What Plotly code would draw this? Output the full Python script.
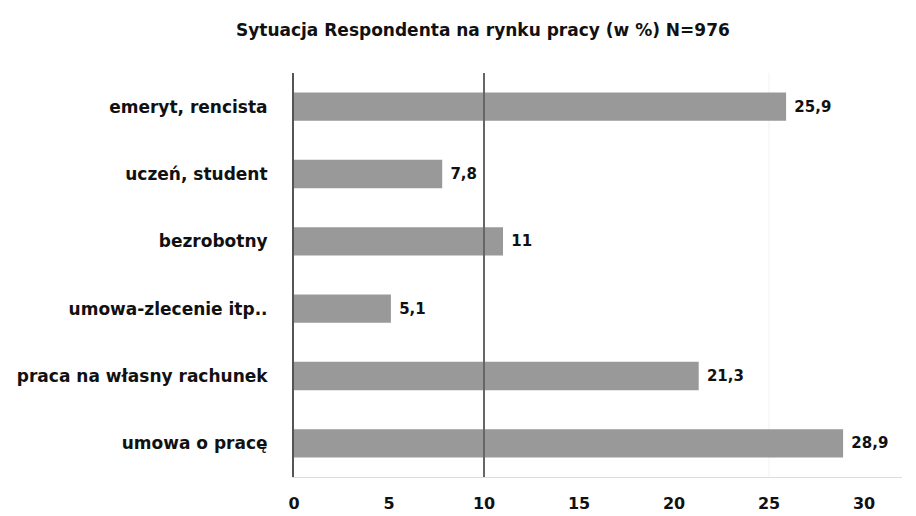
import plotly.graph_objects as go

categories = ["emeryt, rencista", "uczeń, student", "bezrobotny",
              "umowa-zlecenie itp..", "praca na własny rachunek", "umowa o pracę"]
values = [25.9, 7.8, 11, 5.1, 21.3, 28.9]
x_ticks = [0, 5, 10, 15, 20, 25, 30]
title_text = "Sytuacja Respondenta na rynku pracy (w %) N=976"

labels = [" " + ("%g" % v).replace(".", ",") for v in values]

fig = go.Figure(go.Bar(
    y=categories, x=values, orientation="h",
    marker=dict(color="#999999", line=dict(width=0)),
    text=labels, textposition="outside", cliponaxis=False,
    textfont=dict(family="DejaVu Sans", size=15, color="#111111", weight="bold"),
    hoverinfo="skip",
))

fig.add_shape(type="line", xref="x", yref="paper", x0=10, x1=10, y0=0, y1=1,
              line=dict(color="#666666", width=2))
fig.add_shape(type="line", xref="x", yref="paper", x0=25, x1=25, y0=0, y1=1,
              line=dict(color="#f2f2f2", width=1), layer="below")

fig.update_layout(
    width=908, height=508,
    margin=dict(l=286, r=14, t=65, b=39),
    paper_bgcolor="white", plot_bgcolor="white",
    showlegend=False,
    bargap=0.58,
    title=dict(text=title_text, x=0.523, xanchor="center", y=0.957, yanchor="middle",
               font=dict(family="DejaVu Sans", size=17, color="#111111", weight="bold")),
    xaxis=dict(range=[0, 32], tickvals=x_ticks, showgrid=False, zeroline=False,
               showline=True, linecolor="#dddddd", linewidth=1, ticks="",
               ticklabelstandoff=12, automargin=False,
               tickfont=dict(family="DejaVu Sans", size=16, color="#111111", weight="bold")),
    yaxis=dict(autorange="reversed", showgrid=False, zeroline=False,
               showline=True, linecolor="#555555", linewidth=2, ticks="",
               ticklabelstandoff=21, automargin=False,
               tickfont=dict(family="DejaVu Sans", size=17, color="#111111", weight="bold")),
)

fig.write_html("out.html")
